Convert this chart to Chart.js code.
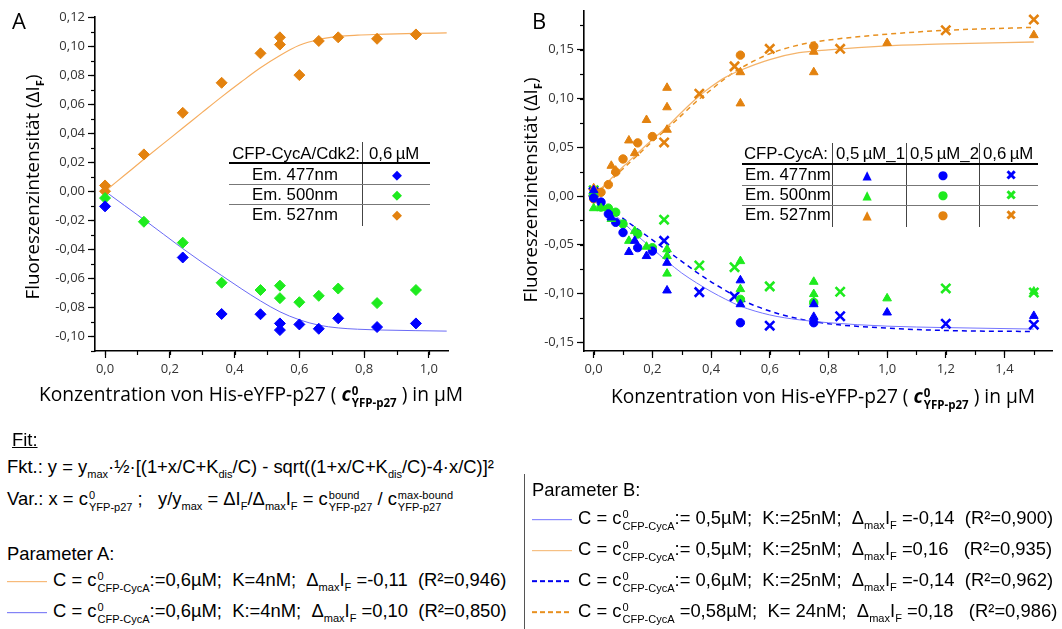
<!DOCTYPE html>
<html>
<head>
<meta charset="utf-8">
<script src="https://cdn.jsdelivr.net/npm/chart.js@4.4.1/dist/chart.umd.min.js"></script>
<style>
  body { margin: 0; background: #fff; }
  #page { position: relative; width: 1062px; height: 629px; overflow: hidden; background: #fff;
          font-family: "Liberation Sans", Arial, sans-serif; color: #000; }
  canvas { position: absolute; }
  .t { position: absolute; white-space: nowrap; line-height: 22px; }
  .os { font-family: "Open Sans", sans-serif; }
  .ytitle { font-size: 18.8px; transform: translate(-50%, -50%) rotate(-90deg); }
  .xtitle { font-size: 19.2px; transform: translate(-50%, -50%); }
  .panel { font-family: "Open Sans", sans-serif; font-size: 22px; }
  .tab { font-size: 16.8px; }
  .sym { font-family: "DejaVu Sans", sans-serif; font-size: 13px; transform: translate(-50%, -50%); }
  .hl { position: absolute; background: #000; }
  .txt { font-size: 18.4px; transform: translateY(-50%); }
  .ss { display: inline-block; vertical-align: -0.55em; line-height: 1.05; font-size: 0.6em; margin-left: 1px; }
  .ss > span { display: block; }
  .sb { font-size: 0.6em; vertical-align: -0.45em; line-height: 0; }
  .ls { display: inline-block; width: 40px; vertical-align: middle; margin-right: 6px; }
</style>
</head>
<body>
<div id="page">
  <canvas id="chartA" width="480" height="420" style="left:0;top:0;width:480px;height:420px"></canvas>
  <canvas id="chartB" width="542" height="420" style="left:520px;top:0;width:542px;height:420px"></canvas>
</div>
<script>
// ---------- Panel A data (CFP-CycA/Cdk2 0,6 µM) ----------
const xA527 = [0, 0, 0.12, 0.24, 0.36, 0.48, 0.54, 0.54, 0.60, 0.66, 0.72, 0.84, 0.96];
const yA527 = [0.004, 0.000, 0.0254, 0.054, 0.0747, 0.095, 0.106, 0.101, 0.080, 0.1035, 0.106, 0.105, 0.108];
const xA500 = [0, 0.12, 0.24, 0.36, 0.48, 0.54, 0.54, 0.60, 0.66, 0.72, 0.84, 0.96];
const yA500 = [-0.0047, -0.021, -0.0354, -0.063, -0.068, -0.065, -0.0736, -0.0764, -0.072, -0.067, -0.077, -0.068];
const xA477 = [0, 0.24, 0.36, 0.48, 0.54, 0.54, 0.60, 0.66, 0.72, 0.84, 0.96];
const yA477 = [-0.0104, -0.0456, -0.0845, -0.0847, -0.091, -0.0956, -0.0917, -0.0947, -0.0875, -0.0935, -0.091];

// fit curves
const xFitA = [0, 0.06, 0.12, 0.18, 0.24, 0.30, 0.36, 0.42, 0.48, 0.54, 0.60, 0.66, 0.72, 0.78, 0.84, 0.96, 1.055];
const fitA527 = [0, 0.011, 0.022, 0.0328, 0.0435, 0.0543, 0.065, 0.0752, 0.085, 0.0935, 0.1005, 0.1045, 0.1066, 0.1075, 0.108, 0.1087, 0.109];
const fitA477 = [0, -0.0098, -0.0195, -0.0295, -0.0395, -0.049, -0.058, -0.067, -0.0755, -0.083, -0.0885, -0.0922, -0.0941, -0.095, -0.0955, -0.096, -0.0963];

// ---------- Panel B data ----------
// triangles: CFP-CycA 0,5 µM_1
const xB1_477 = [0, 0.06, 0.12, 0.14, 0.18, 0.25, 0.25, 0.5, 0.5, 0.75, 0.75, 1.0, 1.5];
const yB1_477 = [0.006, -0.022, -0.0574, -0.046, -0.0616, -0.0685, -0.0969, -0.0865, -0.111, -0.111, -0.124, -0.1195, -0.123];
const xB1_500 = [0, 0.025, 0.06, 0.12, 0.14, 0.18, 0.25, 0.25, 0.25, 0.5, 0.5, 0.75, 0.75, 0.75, 1.0, 1.5];
const yB1_500 = [-0.0125, -0.0125, -0.0235, -0.046, -0.036, -0.052, -0.0547, -0.0616, -0.0796, -0.0668, -0.0955, -0.088, -0.1006, -0.1085, -0.105, -0.098];
const xB1_527 = [0, 0.06, 0.075, 0.12, 0.14, 0.18, 0.25, 0.25, 0.25, 0.5, 0.5, 0.75, 0.75, 1.0, 1.5];
const yB1_527 = [0.008, 0.031, 0.026, 0.057, 0.044, 0.078, 0.111, 0.091, 0.068, 0.127, 0.095, 0.148, 0.127, 0.157, 0.165];
// circles: CFP-CycA 0,5 µM_2
const xB2 = [0, 0.025, 0.05, 0.075, 0.1, 0.15, 0.2, 0.5, 0.75];
const yB2_477 = [-0.002, -0.0062, -0.0184, -0.027, -0.0375, -0.053, -0.0565, -0.130, -0.130];
const yB2_500 = [0.001, -0.0113, -0.0124, -0.0166, -0.0287, -0.039, -0.053, -0.106, -0.109];
const yB2_527 = [-0.003, 0.0038, 0.0117, 0.0247, 0.038, 0.0545, 0.061, 0.1445, 0.1535];
// crosses: CFP-CycA 0,6 µM
const xB3 = [0, 0.24, 0.36, 0.48, 0.6, 0.84, 1.2, 1.5];
const yB3_477 = [0.004, -0.046, -0.0986, -0.103, -0.133, -0.1233, -0.131, -0.132];
const yB3_500 = [0.006, -0.0243, -0.0713, -0.073, -0.0927, -0.0982, -0.0948, -0.099];
const yB3_527 = [0.003, 0.055, 0.105, 0.133, 0.151, 0.151, 0.170, 0.181];

const xFitB = [0, 0.05, 0.1, 0.15, 0.2, 0.25, 0.3, 0.35, 0.4, 0.45, 0.5, 0.6, 0.7, 0.8, 1.0, 1.2, 1.5];
const fitB527a = [0, 0.015, 0.030, 0.044, 0.058, 0.071, 0.086, 0.100, 0.112, 0.122, 0.129, 0.140, 0.147, 0.150, 0.154, 0.156, 0.158];
const fitB527b = [0, 0.014, 0.028, 0.042, 0.056, 0.069, 0.083, 0.097, 0.109, 0.121, 0.131, 0.146, 0.155, 0.160, 0.166, 0.170, 0.173];
const fitB477a = [0, -0.013, -0.027, -0.041, -0.054, -0.067, -0.079, -0.089, -0.098, -0.106, -0.113, -0.122, -0.127, -0.130, -0.1335, -0.135, -0.1365];
const fitB477b = [0, -0.011, -0.023, -0.034, -0.045, -0.056, -0.067, -0.078, -0.088, -0.097, -0.106, -0.118, -0.126, -0.131, -0.1355, -0.138, -0.139];

const BLUE = "#0000ff", GREEN = "#1eeb1e", ORANGE = "#e3820f";

function pts(xs, ys) {
    return xs.map((x, i) => ({ x: x, y: ys[i] }));
}

function markerSet(label, xs, ys, color, style, radius, bw) {
    return {
        label: label,
        data: pts(xs, ys),
        pointStyle: style,
        pointRadius: radius,
        pointBackgroundColor: color,
        pointBorderColor: color,
        pointBorderWidth: bw || 1,
        showLine: false,
        order: 1
    };
}

function fitLine(label, xs, ys, color, width, dash) {
    return {
        label: label,
        data: pts(xs, ys),
        showLine: true,
        borderColor: color,
        borderWidth: width,
        borderDash: dash || [],
        pointRadius: 0,
        cubicInterpolationMode: "monotone",
        order: 2
    };
}

const comma = (digits) => (v) => v.toFixed(digits).replace(".", ",");

// short minor tick marks between the labelled ones
const minorTicks = {
    id: "minorTicks",
    afterDraw(chart, args, opts) {
        const ctx = chart.ctx;
        ctx.save();
        ctx.strokeStyle = "#000";
        ctx.lineWidth = 1.2;
        ["x", "y"].forEach((id) => {
            const s = chart.scales[id];
            const step = opts[id];
            for (let i = Math.ceil(s.min / step - 1e-6); i <= Math.floor(s.max / step + 1e-6); i++) {
                const p = Math.round(s.getPixelForValue(i * step)) + 0.5;
                ctx.beginPath();
                if (id === "x") { ctx.moveTo(p, s.top); ctx.lineTo(p, s.top + 4); }
                else { ctx.moveTo(s.right, p); ctx.lineTo(s.right - 4, p); }
                ctx.stroke();
            }
        });
        ctx.restore();
    }
};

function axis(min, max, step, digits, fitSize, isX) {
    return {
        type: "linear",
        min: min,
        max: max,
        border: { color: "#000", width: 1.6 },
        grid: { drawOnChartArea: false, tickLength: 7, tickColor: "#000", tickWidth: 1.2 },
        ticks: {
            stepSize: step,
            includeBounds: false,
            padding: 3,
            color: "#333",
            font: { family: "Open Sans", size: 13 },
            maxRotation: 0,
            autoSkip: false,
            callback: comma(digits)
        },
        afterFit: (scale) => {
            if (isX) scale.height = fitSize; else scale.width = fitSize;
        }
    };
}

function baseOptions(padding, xAxis, yAxis, minor) {
    return {
        responsive: false,
        animation: false,
        layout: { padding: padding },
        plugins: {
            legend: { display: false },
            tooltip: { enabled: false },
            minorTicks: minor
        },
        scales: { x: xAxis, y: yAxis }
    };
}

new Chart(document.getElementById("chartA"), {
    type: "scatter",
    data: {
        datasets: [
            fitLine("fit 527", xFitA, fitA527, "#f6ad5f", 1.2),
            fitLine("fit 477", xFitA, fitA477, "#6a6af5", 1),
            markerSet("Em. 477nm", xA477, yA477, BLUE, "rectRot", 5.5),
            markerSet("Em. 500nm", xA500, yA500, GREEN, "rectRot", 5.5),
            markerSet("Em. 527nm", xA527, yA527, ORANGE, "rectRot", 5.5)
        ]
    },
    options: baseOptions({ top: 17, right: 32, left: 0, bottom: 0 },
        axis(-0.031, 1.059, 0.2, 1, 69, true),
        axis(-0.11, 0.12, 0.02, 2, 95, false),
        { x: 0.1, y: 0.01 }),
    plugins: [minorTicks]
});

new Chart(document.getElementById("chartB"), {
    type: "scatter",
    data: {
        datasets: [
            fitLine("fit 477 0,5", xFitB, fitB477a, "#7474ff", 1),
            fitLine("fit 527 0,5", xFitB, fitB527a, "#f4b46c", 1.3),
            fitLine("fit 477 0,6", xFitB, fitB477b, "#0000f0", 1.5, [5, 4]),
            fitLine("fit 527 0,58", xFitB, fitB527b, "#e8901f", 1.5, [5, 4]),
            markerSet("477 0,5_1", xB1_477, yB1_477, BLUE, "triangle", 5),
            markerSet("500 0,5_1", xB1_500, yB1_500, GREEN, "triangle", 5),
            markerSet("527 0,5_1", xB1_527, yB1_527, ORANGE, "triangle", 5),
            markerSet("477 0,5_2", xB2, yB2_477, BLUE, "circle", 4.2),
            markerSet("500 0,5_2", xB2, yB2_500, GREEN, "circle", 4.2),
            markerSet("527 0,5_2", xB2, yB2_527, ORANGE, "circle", 4.2),
            markerSet("477 0,6", xB3, yB3_477, BLUE, "crossRot", 6.5, 2.6),
            markerSet("500 0,6", xB3, yB3_500, GREEN, "crossRot", 6.5, 2.6),
            markerSet("527 0,6", xB3, yB3_527, ORANGE, "crossRot", 6.5, 2.6)
        ]
    },
    options: baseOptions({ top: 4, right: 1, left: 0, bottom: 0 },
        axis(-0.033, 1.565, 0.2, 1, 69, true),
        axis(-0.159, 0.19, 0.05, 2, 64, false),
        { x: 0.1, y: 0.025 }),
    plugins: [minorTicks]
});

// ---------- text: titles, in-plot tables, fit description ----------
const page = document.getElementById("page");

function put(x, y, html, cls, style) {
    const d = document.createElement("div");
    d.className = "t " + (cls || "");
    d.style.left = x + "px";
    d.style.top = y + "px";
    if (style) d.style.cssText += style;
    d.innerHTML = html;
    page.appendChild(d);
    return d;
}

function hline(x1, x2, y, h, color) {
    put(x1, y, "", "hl", "width:" + (x2 - x1) + "px;height:" + h + "px;background:" + (color || "#000"));
}

function vline(x, y1, y2, color) {
    put(x, y1, "", "hl", "width:1px;height:" + (y2 - y1) + "px;background:" + (color || "#444"));
}

const cSup = (sub) => "c<span class='ss'><span>0</span><span>" + sub + "</span></span>";
const dMax = "&Delta;<span class='sb'>max</span>I<span class='sb'>F</span>";

// panel letters and axis titles
put(12, 20, "A", "panel", "transform:translateY(-50%)");
put(532, 20, "B", "panel", "transform:translateY(-50%)");
const yTitle = "Fluoreszenzintensit&auml;t (&Delta;I<span class='sb' style='font-weight:bold'>F</span>)";
put(32, 187, yTitle, "os ytitle");
put(530, 190, yTitle, "os ytitle");
const xTitle = "Konzentration von His-eYFP-p27 ( <b><i>c</i></b><span class='ss' style='font-weight:bold'><span>0</span><span>YFP-p27</span></span> ) in &micro;M";
put(251, 396, xTitle, "os xtitle");
put(823, 398, xTitle, "os xtitle");

// legend table A
put(360, 154, "CFP-CycA/Cdk2:", "tab", "transform:translate(-100%,-50%)");
put(369, 154, "0,6&thinsp;&micro;M", "tab", "transform:translateY(-50%)");
vline(362, 142, 226);
hline(229, 430, 162, 2);
hline(229, 430, 184, 1, "#777");
hline(229, 430, 204, 1, "#777");
[["Em. 477nm", BLUE], ["Em. 500nm", GREEN], ["Em. 527nm", ORANGE]].forEach((r, i) => {
    const y = [174.5, 194.5, 215][i];
    put(295, y, r[0], "tab", "transform:translate(-50%,-50%)");
    put(397, y, "&#9670;", "sym", "color:" + r[1]);
});

// legend table B
put(744, 154, "CFP-CycA:", "tab", "transform:translateY(-50%)");
put(836, 154, "0,5&thinsp;&micro;M_1", "tab", "transform:translateY(-50%)");
put(910, 154, "0,5&thinsp;&micro;M_2", "tab", "transform:translateY(-50%)");
put(983, 154, "0,6&thinsp;&micro;M", "tab", "transform:translateY(-50%)");
[832, 906, 979].forEach((x) => vline(x, 143, 227));
hline(742, 1038, 163, 2);
hline(742, 1038, 185, 1, "#777");
hline(742, 1038, 205, 1, "#777");
[["Em. 477nm", BLUE], ["Em. 500nm", GREEN], ["Em. 527nm", ORANGE]].forEach((r, i) => {
    const y = [174.5, 194.5, 215][i];
    put(745, y, r[0], "tab", "transform:translateY(-50%)");
    put(867, y, "&#9650;", "sym", "color:" + r[1] + ";font-size:12px");
    put(943, y, "&#9679;", "sym", "color:" + r[1] + ";font-size:12px");
    put(1011, y, "&#10006;", "sym", "color:" + r[1] + ";font-size:14px");
});

// fit description
put(12, 440, "<u>Fit:</u>", "txt");
put(7, 467, "Fkt.: y = y<span class='sb'>max</span>&middot;&frac12;&middot;[(1+x/C+K<span class='sb'>dis</span>/C) - sqrt((1+x/C+K<span class='sb'>dis</span>/C)-4&middot;x/C)]&sup2;", "txt");
put(7, 501, "Var.: x = " + cSup("YFP-p27") + " ;&nbsp;&nbsp; y/y<span class='sb'>max</span> = &Delta;I<span class='sb'>F</span>/" + dMax +
    " = c<span class='ss'><span>bound</span><span>YFP-p27</span></span> / c<span class='ss'><span>max-bound</span><span>YFP-p27</span></span>", "txt");
put(7, 554, "Parameter A:", "txt");

const lineSample = (color, dashed) => dashed
    ? "<span class='ls' style='height:1.5px;background:repeating-linear-gradient(90deg," + color + " 0 5px,transparent 5px 8px)'></span>"
    : "<span class='ls' style='border-top:1px solid " + color + "'></span>";

const rowsA = [
    [lineSample("#f6ad5f"), cSup("CFP-CycA") + ":=0,6&micro;M;&nbsp; K=4nM;&nbsp; " + dMax + " =-0,11&nbsp; (R&sup2;=0,946)"],
    [lineSample("#6a6af5"), cSup("CFP-CycA") + ":=0,6&micro;M;&nbsp; K:=4nM;&nbsp; " + dMax + " =0,10&nbsp; (R&sup2;=0,850)"]
];
rowsA.forEach((r, i) => put(7, [582, 613][i], r[0] + "C = " + r[1], "txt"));

vline(524, 474, 629, "#555");
put(532, 490, "Parameter B:", "txt");
const rowsB = [
    [lineSample("#7474ff"), cSup("CFP-CycA") + ":= 0,5&micro;M;&nbsp; K:=25nM;&nbsp; " + dMax + " =-0,14&nbsp; (R&sup2;=0,900)"],
    [lineSample("#f4b46c"), cSup("CFP-CycA") + ":= 0,5&micro;M;&nbsp; K:=25nM;&nbsp; " + dMax + " =0,16&nbsp;&nbsp; (R&sup2;=0,935)"],
    [lineSample("#0000f0", true), cSup("CFP-CycA") + ":= 0,6&micro;M;&nbsp; K:=25nM;&nbsp; " + dMax + " =-0,14&nbsp; (R&sup2;=0,962)"],
    [lineSample("#e8901f", true), cSup("CFP-CycA") + " =0,58&micro;M;&nbsp; K= 24nM;&nbsp; " + dMax + " =0,18&nbsp;&nbsp; (R&sup2;=0,986)"]
];
rowsB.forEach((r, i) => put(532, [520, 551, 582, 613][i], r[0] + "C = " + r[1], "txt"));
</script>
</body>
</html>
